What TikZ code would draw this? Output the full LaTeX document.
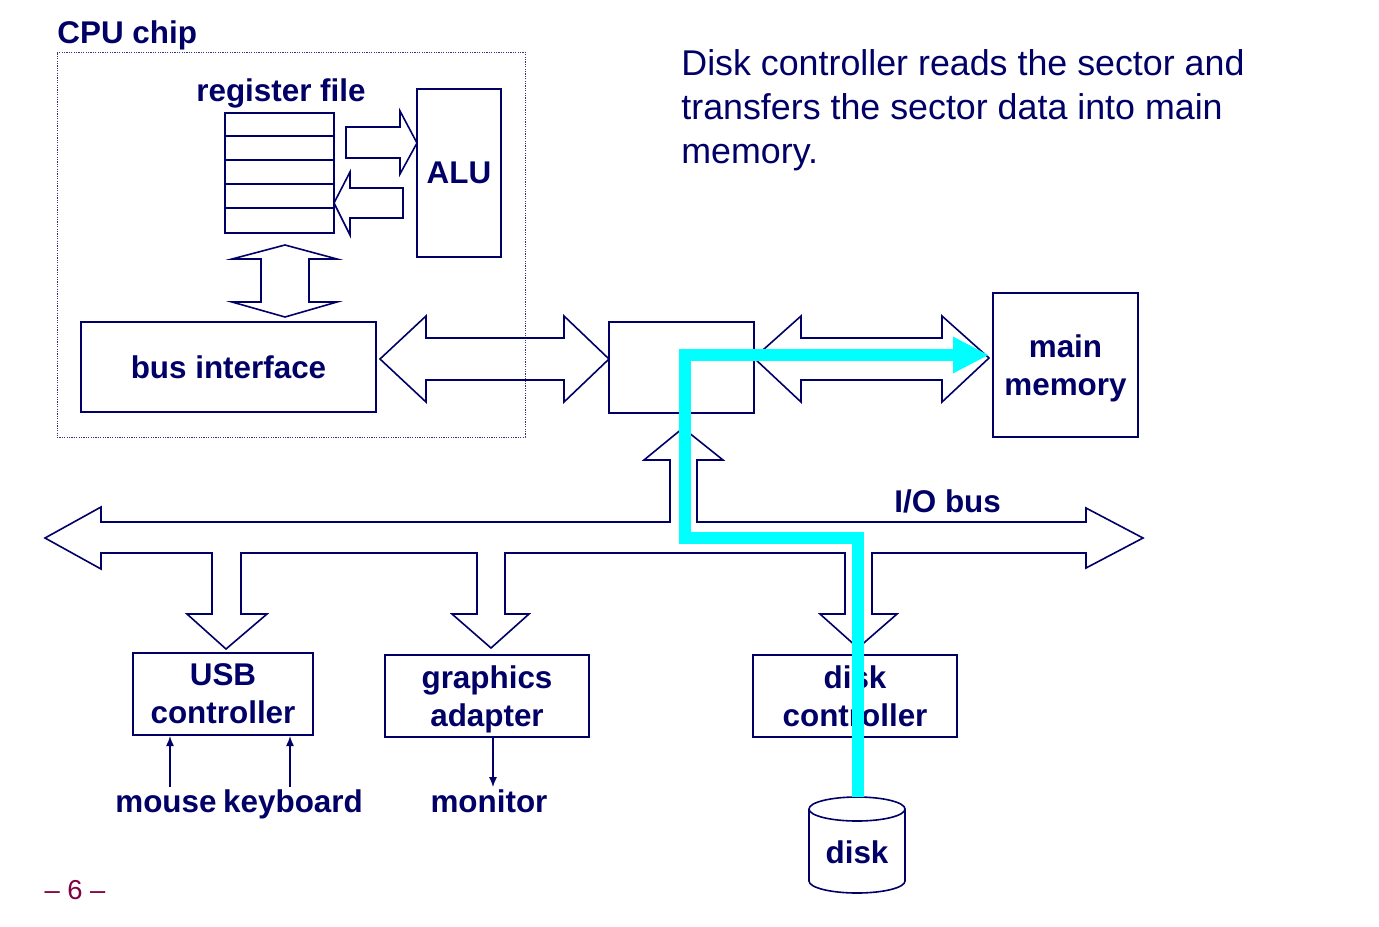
\documentclass[tikz,border=0pt]{standalone}
\usepackage{fontspec}
\setmainfont{Liberation Sans}
\usepackage{xcolor}
\usepackage{tikz}
\usetikzlibrary{arrows.meta}

\definecolor{navy}{RGB}{0,0,102}
\definecolor{dataflow}{RGB}{0,255,255}
\definecolor{pagenum}{RGB}{128,0,64}

\begin{document}
\begin{tikzpicture}[x=0.5pt,y=-0.5pt,
  box/.style={draw=navy,line width=1pt,text=navy,font=\bfseries\fontsize{15.7}{19}\selectfont,align=center,inner sep=0pt,text depth=0pt},
  lbl/.style={text=navy,font=\bfseries\fontsize{15.7}{19}\selectfont,inner sep=0pt},
  fat/.style={draw=navy,line width=0.8pt,line join=miter},
  wire/.style={draw=navy,line width=0.7pt,-{Latex[length=5pt,width=4pt]}},
  datapath/.style={draw=dataflow,line width=5.6pt,-{Triangle[length=18pt,width=17pt]}}]

\useasboundingbox (0,0) rectangle (1379,926);

% CPU chip
\node[draw=navy!80,line width=0.5pt,dash pattern=on 0.6pt off 0.6pt,minimum width=234pt,minimum height=192.5pt,inner sep=0pt] (cpu) at (291,244.5) {};
\node[lbl,anchor=base west] (cpulbl) at (57,43) {CPU chip};

% register file and ALU
\node[box,minimum width=54.5pt,minimum height=60pt] (regfile) at (279.5,173) {};
\foreach \i in {1,...,4}
  \draw[navy,line width=1pt] ([yshift=-12pt*\i]regfile.north west) -- ([yshift=-12pt*\i]regfile.north east);
\node[lbl,anchor=base] (reglbl) at (281,101) {register file};
\node[box,minimum width=42pt,minimum height=84pt] (alu) at (459,173) {ALU};

% boxes
\node[box,minimum width=147.5pt,minimum height=45pt] (busif) at (228.5,367) {bus interface};
\node[box,minimum width=72.5pt,minimum height=45.5pt] (bridge) at (681.5,367.5) {};
\node[box,minimum width=72.5pt,minimum height=72pt] (mainmem) at (1065.5,365) {main\\memory};
\node[box,minimum width=90pt,minimum height=41pt] (usb) at (223,694) {USB\\controller};
\node[box,minimum width=102pt,minimum height=41pt] (graphics) at (487,696) {graphics\\adapter};
\node[box,minimum width=102pt,minimum height=41pt] (diskctl) at (855,696) {disk\\controller};

% devices
\node[lbl,text height=12.5pt,text depth=3pt] (mouse) at (166,803) {mouse};
\node[lbl,text height=12.5pt,text depth=3pt] (keyboard) at (293,803) {keyboard};
\node[lbl,text height=12.5pt,text depth=3pt] (monitor) at (489,803) {monitor};
\draw[wire] ([xshift=2pt]mouse.north) -- ([xshift=2pt]mouse.north |- usb.south);
\draw[wire] ([xshift=-1.5pt]keyboard.north) -- ([xshift=-1.5pt]keyboard.north |- usb.south);
\draw[wire] ([xshift=2pt]graphics.south -| monitor.north) -- ([xshift=2pt]monitor.north);

% disk
\draw[navy,line width=0.8pt,fill=white] (809,809) -- (809,881) arc[start angle=180,end angle=360,x radius=24pt,y radius=6pt] -- (905,809);
\draw[navy,line width=0.8pt] (857,809) ellipse [x radius=24pt,y radius=6pt];
\node[lbl] (disk) at (857,852) {disk};

% wide arrows
\draw[fat] (346,127) -- (400,127) -- (400,111) -- (417,143) -- (400,174) -- (400,158) -- (346,158) -- cycle;
\draw[fat] (403,188) -- (350,188) -- (350,172) -- (334,203) -- (350,235) -- (350,218) -- (403,218) -- cycle;
\draw[fat] (285,245) -- (337,259) -- (309,259) -- (309,302) -- (337,302) -- (285,317) -- (232,302) -- (261,302) -- (261,259) -- (232,259) -- cycle;
\draw[fat] (380,359) -- (426,316) -- (426,338) -- (564,338) -- (564,316) -- (609,359) -- (564,402) -- (564,380) -- (426,380) -- (426,402) -- cycle;
\draw[fat] (754,358) -- (801,316) -- (801,338) -- (942,338) -- (942,316) -- (989,358) -- (942,402) -- (942,380) -- (801,380) -- (801,402) -- cycle;

% I/O bus
\draw[fat] (45,538) -- (101,507) -- (101,522) -- (670,522) -- (670,460) -- (644,460) -- (683,428) -- (723,460) -- (697,460) -- (697,522)
  -- (1086,522) -- (1086,508) -- (1143,538) -- (1086,568) -- (1086,553)
  -- (872,553) -- (872,614) -- (897,614) -- (858,648) -- (820,614) -- (845,614) -- (845,553)
  -- (505,553) -- (505,614) -- (529,614) -- (491,648) -- (452,614) -- (477,614) -- (477,553)
  -- (241,553) -- (241,614) -- (267,614) -- (226,649) -- (187,614) -- (212,614) -- (212,553)
  -- (101,553) -- (101,569) -- cycle;
\node[lbl,anchor=base west] (iobus) at (894,512) {I/O bus};

% text
\node[text=navy,font=\fontsize{17.9}{22}\selectfont,align=left,anchor=north west,inner sep=0pt] (note) at (681,49) {Disk controller reads the sector and\\transfers the sector data into main\\memory.};
\node[text=pagenum,font=\fontsize{13.7}{16}\selectfont] (page) at (75,890) {– 6 –};

% data flow
\coordinate (disktop) at (858,797);
\coordinate (memin) at (989,355);
\draw[datapath] (disktop) |- (685,538) |- (memin);

\end{tikzpicture}
\end{document}
